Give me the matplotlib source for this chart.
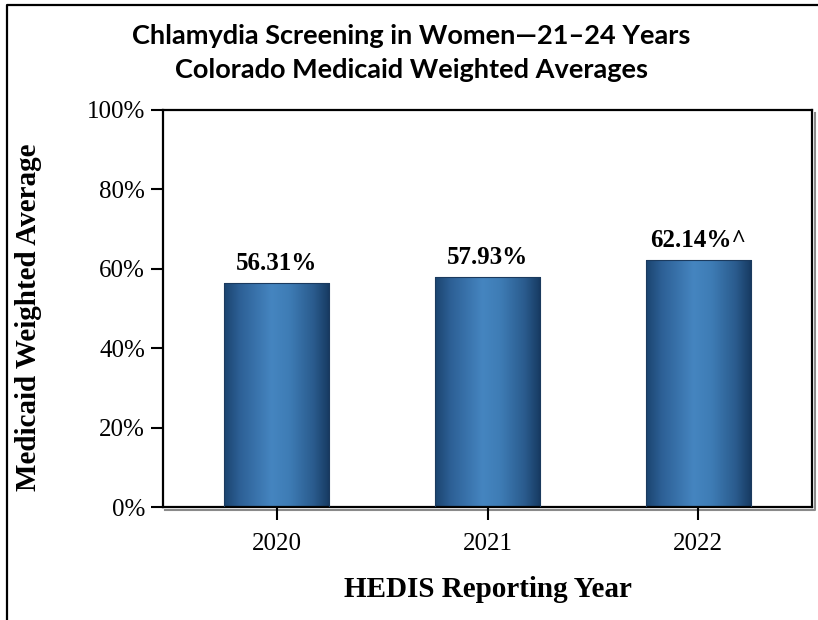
import numpy as np
import matplotlib.pyplot as plt
from matplotlib.colors import LinearSegmentedColormap
from matplotlib.lines import Line2D

years = ['2020', '2021', '2022']
rates = [56.31, 57.93, 62.14]
labels = ['56.31%', '57.93%', '62.14%^']
yticks = [0, 20, 40, 60, 80, 100]

title = 'Chlamydia Screening in Women\u201421\u201324 Years\nColorado Medicaid Weighted Averages'

W, H = 818, 620
fig = plt.figure(figsize=(W / 100, H / 100), dpi=100)
serif = 'Liberation Serif'

# axes box in pixels: x 163-812, y 110-507
ax = fig.add_axes([163 / W, 1 - 507 / H, (812 - 163) / W, (507 - 110) / H])

# drop shadow along bottom and right of the plot area
sx0, sx1 = (165) / W, (814.5) / W
sy0, sy1 = 1 - 509.5 / H, 1 - 113 / H
fig.add_artist(Line2D([sx0, sx1, sx1], [sy0, sy0, sy1], transform=fig.transFigure,
                      color='#8a8a8a', linewidth=1.5, zorder=0))

# outer frame (left and top edges only visible)
fig.add_artist(Line2D([7 / W, 7 / W, 1.0], [0.0, 1 - 5 / H, 1 - 5 / H], transform=fig.transFigure,
                      color='black', linewidth=1.6))

grad = LinearSegmentedColormap.from_list('bar', [
    (0.0, '#1b446f'), (0.15, '#2d6096'), (0.45, '#4585c0'),
    (0.62, '#3e7cb5'), (0.85, '#2a5b8d'), (1.0, '#163960')])
g = np.linspace(0, 1, 256).reshape(1, -1)

x = np.arange(len(years))
width = 0.5
bars = ax.bar(x, rates, width=width, color='none', edgecolor='#1b3a5e', linewidth=0.8, zorder=3)
for b, lab in zip(bars, labels):
    x0, y0 = b.get_x(), b.get_y()
    ax.imshow(g, cmap=grad, aspect='auto', extent=(x0, x0 + b.get_width(), y0, y0 + b.get_height()),
              zorder=2, interpolation='bicubic')
    ax.annotate(lab, (b.get_x() + b.get_width() / 2, b.get_height()), xytext=(0, 6),
                textcoords='offset points', ha='center', va='bottom',
                fontsize=18, fontweight='bold', family=serif)

ax.set_xlim(-0.54, 2.54)
ax.set_ylim(0, 100)
ax.set_xticks(x)
ax.set_xticklabels(years, family=serif, fontsize=18)
ax.set_yticks(yticks)
ax.set_yticklabels([f'{t}%' for t in yticks], family=serif, fontsize=18)
ax.tick_params(axis='y', length=9, width=1.5, pad=4)
ax.tick_params(axis='x', length=9, width=1.5, pad=10)
for s in ax.spines.values():
    s.set_linewidth(1.6)

ax.set_xlabel('HEDIS Reporting Year', family=serif, fontsize=21, fontweight='bold', va='center')
ax.xaxis.set_label_coords(0.5008, -0.209)
ax.set_ylabel('Medicaid Weighted Average', family=serif, fontsize=21, fontweight='bold', va='center')
ax.yaxis.set_label_coords(-0.208, 0.4786)

fig.text(0.5025, 1 - 53 / H, title, ha='center', va='center', family='Lato', fontweight='bold',
         fontsize=19.5, linespacing=1.45)

fig.savefig('out.png', dpi=100, facecolor='white')
